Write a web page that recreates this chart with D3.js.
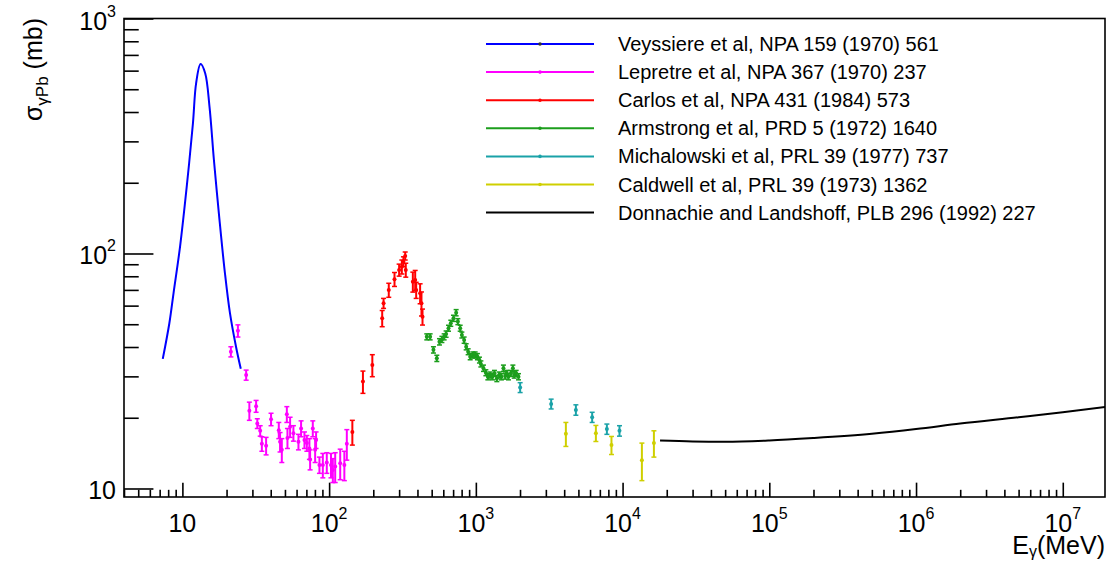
<!DOCTYPE html>
<html>
<head>
<meta charset="utf-8">
<script src="https://cdn.jsdelivr.net/npm/d3@7"></script>
<style>
  body { margin: 0; background: #fff; }
  svg text { font-family: "Liberation Sans", Arial, sans-serif; fill: #000; }
</style>
</head>
<body>
<svg id="chart" width="1112" height="562"></svg>
<script>
// Veyssiere (curve)
var veyE = [7.35, 8.15, 8.7, 9.64, 10.7, 11.8, 12.4, 13.3, 14.3, 15.3, 16.4, 17.9, 19.5, 21.1, 23.2, 25.0];
var veyS = [35.6, 50.5, 67.7, 107, 192, 358, 530, 640, 585, 422, 250, 139, 82.4, 55.7, 40.1, 32.3];

// Lepretre
var lepE = [21.4, 23.9, 27.2, 28.6, 31.8, 32.4, 33.9, 34.8, 37.2, 40.2, 45.4, 46.3, 47.6, 51.5, 52.0, 54.2, 57.1, 61.8,
  64.4, 67.9, 70.5, 73.4, 74.2, 77.4, 80.3, 81.5, 85.9, 90.6, 96.4, 103, 106, 110, 119, 127, 132];
var lepS = [38.2, 46.9, 30.4, 21.4, 22.4, 18.9, 17.6, 15.5, 15.2, 19.7, 17.7, 15.8, 14.6, 20.7, 16.4, 18.3, 17.2, 15.8,
  18.0, 16.1, 15.6, 14.8, 13.3, 18.0, 14.6, 16.1, 12.6, 12.6, 12.9, 12.6, 12.0, 12.4, 12.8, 12.6, 15.5];
var lepErr = [1.9, 2.8, 1.5, 1.9, 1.3, 0.9, 0.9, 1.1, 1.3, 1.2, 1.4, 1.5, 1.7, 1.6, 1.6, 1.8, 1.3, 1.2,
  1.4, 1.3, 1.2, 1.5, 1.3, 1.4, 1.7, 1.3, 1.0, 1.5, 1.3, 1.5, 1.4, 1.8, 1.9, 1.8, 2.3];

// Carlos
var carE = [144, 170, 197, 230, 235, 255, 279, 300, 313, 321, 330, 333, 372, 386, 392, 417, 426, 433];
var carS = [17.4, 28.5, 33.5, 53.0, 61.4, 69.9, 77.7, 85.1, 87.8, 92.3, 97.6, 85.1, 75.9, 77.1, 69.9, 67.7, 61.4, 53.8];
var carErr = [2.1, 3.1, 3.6, 4.2, 3.0, 4.8, 5.3, 5.0, 6.0, 4.5, 3.8, 5.8, 7.4, 7.6, 5.5, 6.6, 7.2, 4.2];

// Armstrong
var armE = [463, 488, 514, 542, 565, 587, 608, 627, 651, 675, 704, 734, 754, 782, 803, 832, 859, 886, 915, 954, 989,
  1025, 1058, 1082, 1127, 1170, 1207, 1252, 1298, 1339, 1390, 1441, 1494, 1542, 1584, 1627, 1668, 1733, 1788, 1825, 1883, 1952];
var armS = [44.2, 44.2, 38.9, 35.8, 42.1, 43.1, 44.2, 45.4, 48.1, 50.5, 53.0, 56.0, 51.3, 48.1, 45.0, 42.8, 40.1, 38.2, 36.4, 37.0, 37.0,
  36.4, 35.2, 33.9, 32.5, 31.1, 29.9, 30.4, 29.9, 30.9, 29.4, 30.4, 29.9, 32.5, 30.1, 30.9, 29.9, 30.9, 32.5, 30.4, 30.9, 29.9];
var armErr = [1.3, 1.3, 1.2, 1.1, 1.3, 1.3, 1.3, 1.4, 1.4, 1.5, 1.6, 1.7, 1.5, 1.4, 1.3, 1.3, 1.2, 1.1, 1.1, 1.1, 1.1,
  1.1, 1.0, 1.0, 1.0, 0.9, 0.9, 0.9, 0.9, 0.9, 0.9, 0.9, 0.9, 1.0, 0.9, 0.9, 0.9, 0.9, 1.0, 0.9, 0.9, 0.9];

// Michalowski
var micE = [2004, 3260, 4805, 6204, 7816, 9526];
var micS = [26.9, 22.9, 21.6, 20.1, 17.9, 17.6];
var micErr = [1.3, 1.1, 1.1, 1.0, 0.9, 0.9];

// Caldwell
var calE = [4107, 6577, 8400, 13540, 16350];
var calS = [17.1, 17.2, 15.3, 13.2, 15.6];
var calErr = [2.0, 1.35, 1.35, 2.4, 2.0];

// Donnachie and Landshoff (curve)
var dlE = [1.8e4, 3e4, 5e4, 1e5, 2e5, 5e5, 1e6, 2e6, 5e6, 1e7, 2e7];
var dlS = [16.0, 15.85, 15.8, 16.0, 16.4, 17.1, 17.9, 18.9, 20.1, 21.1, 22.3];

var legendNames = [
  "Veyssiere et al, NPA 159 (1970) 561",
  "Lepretre et al, NPA 367 (1970) 237",
  "Carlos et al, NPA 431 (1984) 573",
  "Armstrong et al, PRD 5 (1972) 1640",
  "Michalowski et al, PRL 39 (1977) 737",
  "Caldwell et al, PRL 39 (1973) 1362",
  "Donnachie and Landshoff, PLB 296 (1992) 227"
];
var legendColors = ["#0000ff", "#ff00ff", "#ff0000", "#1c9e1c", "#1aa2a8", "#cfcf00", "#000000"];

var xMajor = [10, 1e2, 1e3, 1e4, 1e5, 1e6, 1e7];
var xExp = ["", "2", "3", "4", "5", "6", "7"];
var yMajor = [10, 100, 1000];
var yExp = ["", "2", "3"];

var svg = d3.select("#chart");
var padL = 124, padR = 1105, padT = 18.5, padB = 497;

var x = d3.scaleLog().domain([4, 1.94e7]).range([padL, padR]);
var y = d3.scaleLog().domain([9.2, 1000]).range([padB, padT]);

svg.append("rect").attr("width", 1112).attr("height", 562).attr("fill", "#fff");

// minor tick values, 2..9 in each decade inside the domain
function minors(scale) {
  var d = scale.domain(), out = [];
  for (var p = Math.floor(Math.log10(d[0])); p <= Math.ceil(Math.log10(d[1])); p++) {
    for (var k = 2; k <= 9; k++) {
      var v = k * Math.pow(10, p);
      if (v >= d[0] && v <= d[1]) out.push(v);
    }
  }
  return out;
}

var xLen = padR - padL, yLen = padB - padT;

function styleAxis(g) {
  g.select(".domain").remove();
  g.selectAll("line").attr("stroke", "#000").attr("stroke-width", 1.6);
}

svg.append("g").attr("transform", "translate(0," + padB + ")")
  .call(d3.axisBottom(x).tickValues(minors(x)).tickSize(-yLen * 0.015).tickSizeOuter(0).tickFormat(""))
  .call(styleAxis);
svg.append("g").attr("transform", "translate(0," + padB + ")")
  .call(d3.axisBottom(x).tickValues(xMajor).tickSize(-yLen * 0.03).tickSizeOuter(0).tickFormat(""))
  .call(styleAxis);
svg.append("g").attr("transform", "translate(" + padL + ",0)")
  .call(d3.axisLeft(y).tickValues(minors(y)).tickSize(-xLen * 0.015).tickSizeOuter(0).tickFormat(""))
  .call(styleAxis);
svg.append("g").attr("transform", "translate(" + padL + ",0)")
  .call(d3.axisLeft(y).tickValues(yMajor).tickSize(-xLen * 0.03).tickSizeOuter(0).tickFormat(""))
  .call(styleAxis);

// frame
svg.append("rect")
  .attr("x", padL).attr("y", padT).attr("width", xLen).attr("height", yLen)
  .attr("fill", "none").attr("stroke", "#000").attr("stroke-width", 1.6);

// tick labels
xMajor.forEach(function (v, i) {
  var t = svg.append("text").attr("x", x(v)).attr("y", 532)
    .attr("text-anchor", "middle").attr("font-size", 25).text("10");
  if (xExp[i]) t.append("tspan").attr("font-size", 16).attr("dy", -13).text(xExp[i]);
});
yMajor.forEach(function (v, i) {
  var t = svg.append("text").attr("x", 116).attr("y", y(v) + 11)
    .attr("text-anchor", "end").attr("font-size", 25).text("10");
  if (yExp[i]) t.append("tspan").attr("font-size", 16).attr("dy", -13).text(yExp[i]);
});

// axis titles
var xt = svg.append("text").attr("x", padR).attr("y", 554)
  .attr("text-anchor", "end").attr("font-size", 25).text("E");
xt.append("tspan").attr("font-size", 16).attr("dy", 3).text("\u03b3");
xt.append("tspan").attr("font-size", 25).attr("dy", -3).text("(MeV)");

var yt = svg.append("text").attr("transform", "translate(42,18) rotate(-90)")
  .attr("text-anchor", "end").attr("font-size", 25).text("\u03c3");
yt.append("tspan").attr("font-size", 17).attr("dy", 6).text("\u03b3Pb");
yt.append("tspan").attr("font-size", 25).attr("dy", -6).text(" (mb)");

// plot area
svg.append("clipPath").attr("id", "clip")
  .append("rect").attr("x", padL).attr("y", padT).attr("width", xLen).attr("height", yLen);
var plot = svg.append("g").attr("clip-path", "url(#clip)");

var line = d3.line()
  .x(function (d) { return x(d[0]); })
  .y(function (d) { return y(d[1]); });

plot.append("path")
  .attr("d", line.curve(d3.curveCatmullRom)(d3.zip(veyE, veyS)))
  .attr("fill", "none").attr("stroke", legendColors[0]).attr("stroke-width", 2);

plot.append("path")
  .attr("d", line.curve(d3.curveMonotoneX)(d3.zip(dlE, dlS)))
  .attr("fill", "none").attr("stroke", legendColors[6]).attr("stroke-width", 2);

function drawPoints(E, S, err, color) {
  var g = plot.append("g").attr("stroke", color).attr("fill", color);
  var pt = g.selectAll("g").data(d3.range(E.length)).enter().append("g");
  pt.append("line")
    .attr("x1", function (i) { return x(E[i]); })
    .attr("x2", function (i) { return x(E[i]); })
    .attr("y1", function (i) { return y(S[i] - err[i]); })
    .attr("y2", function (i) { return y(S[i] + err[i]); })
    .attr("stroke-width", 2);
  [-1, 1].forEach(function (s) {
    pt.append("line")
      .attr("x1", function (i) { return x(E[i]) - 2.5; })
      .attr("x2", function (i) { return x(E[i]) + 2.5; })
      .attr("y1", function (i) { return y(S[i] + s * err[i]); })
      .attr("y2", function (i) { return y(S[i] + s * err[i]); })
      .attr("stroke-width", 1.5);
  });
  pt.append("circle")
    .attr("cx", function (i) { return x(E[i]); })
    .attr("cy", function (i) { return y(S[i]); })
    .attr("r", 2).attr("stroke", "none");
}

drawPoints(lepE, lepS, lepErr, legendColors[1]);
drawPoints(carE, carS, carErr, legendColors[2]);
drawPoints(armE, armS, armErr, legendColors[3]);
drawPoints(micE, micS, micErr, legendColors[4]);
drawPoints(calE, calS, calErr, legendColors[5]);

// legend
var leg = svg.append("g");
legendNames.forEach(function (name, i) {
  var ly = 44 + i * 28.1;
  leg.append("line").attr("x1", 486).attr("x2", 594).attr("y1", ly).attr("y2", ly)
    .attr("stroke", legendColors[i]).attr("stroke-width", 2);
  if (i < 6) {
    leg.append("circle").attr("cx", 540).attr("cy", ly).attr("r", 1.8)
      .attr("fill", i === 0 ? "#333" : legendColors[i]);
  }
  leg.append("text").attr("x", 618).attr("y", ly + 7).attr("font-size", 20).text(name);
});
</script>
</body>
</html>
